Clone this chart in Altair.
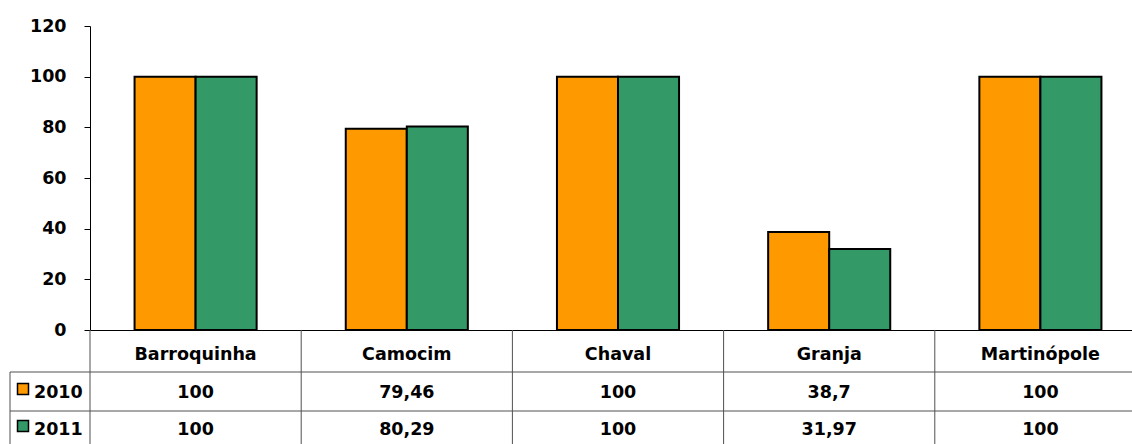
import altair as alt
import pandas as pd

municipios = ["Barroquinha", "Camocim", "Chaval", "Granja", "Martinópole"]
anos = ["2010", "2011"]
valores_2010 = [100, 79.46, 100, 38.7, 100]
valores_2011 = [100, 80.29, 100, 31.97, 100]
rotulos_2010 = ["100", "79,46", "100", "38,7", "100"]
rotulos_2011 = ["100", "80,29", "100", "31,97", "100"]
cores = ["#FF9900", "#339966"]
y_ticks = [0, 20, 40, 60, 80, 100, 120]

rows = []
for ano, vals, rots in [("2010", valores_2010, rotulos_2010), ("2011", valores_2011, rotulos_2011)]:
    for m, v, r in zip(municipios, vals, rots):
        rows.append({"municipio": m, "ano": ano, "valor": v, "rotulo": r})
df = pd.DataFrame(rows)
df_cat = pd.DataFrame({"municipio": municipios})
df_anos = pd.DataFrame({"ano": anos})
one = alt.Data(values=[{"k": 1}])

W, H = 1042, 304
XRANGE = 1056
FONT = "DejaVu Sans"
FS = 17.5
row_y = {"2010": 367, "2011": 404}
sq_y = {"2010": 363, "2011": 400}
LINE = "#505050"

xscale = alt.Scale(domain=municipios, paddingInner=0, paddingOuter=0, range=[0, XRANGE])
xenc = alt.X("municipio:N", sort=municipios, scale=xscale, title=None,
             axis=alt.Axis(labels=False, ticks=False, domainColor="black", domainWidth=1))

bars = alt.Chart(df).mark_bar(stroke="black", strokeWidth=2).encode(
    x=xenc,
    xOffset=alt.XOffset("ano:N", sort=anos, scale=alt.Scale(paddingInner=0, paddingOuter=0.73)),
    y=alt.Y("valor:Q", scale=alt.Scale(domain=[0, 120], nice=False), title=None,
            axis=alt.Axis(values=y_ticks, grid=False, tickColor="black", tickSize=6,
                          domainColor="black", labelFont=FONT, labelFontSize=FS,
                          labelFontWeight="bold", labelColor="black", labelPadding=18)),
    color=alt.Color("ano:N", scale=alt.Scale(domain=anos, range=cores), legend=None),
)

cat_labels = alt.Chart(df_cat).mark_text(font=FONT, fontSize=FS, fontWeight="bold",
                                         color="black", baseline="middle").encode(
    x=alt.X("municipio:N", sort=municipios, scale=xscale),
    y=alt.value(H + 25),
    text="municipio:N",
)

col_lines = alt.Chart(df_cat).mark_rule(color=LINE, strokeWidth=1).encode(
    x=alt.X("municipio:N", sort=municipios, scale=xscale, bandPosition=0),
    y=alt.value(H),
    y2=alt.value(H + 114),
)

layers = [bars, col_lines, cat_labels]

for yv in [346, 385]:
    layers.append(alt.Chart(one).mark_rule(color=LINE, strokeWidth=1).encode(
        x=alt.value(-80), x2=alt.value(W), y=alt.value(yv)))
layers.append(alt.Chart(one).mark_rule(color=LINE, strokeWidth=1).encode(
    x=alt.value(-80), y=alt.value(346), y2=alt.value(418)))

for i, ano in enumerate(anos):
    layers.append(alt.Chart(df).transform_filter(alt.datum.ano == ano).mark_text(
        font=FONT, fontSize=FS, fontWeight="bold", color="black", baseline="middle").encode(
        x=alt.X("municipio:N", sort=municipios, scale=xscale),
        y=alt.value(row_y[ano]),
        text="rotulo:N",
    ))
    sub = df_anos[df_anos.ano == ano]
    layers.append(alt.Chart(sub).mark_square(size=121, stroke="black", strokeWidth=1.5,
                                             opacity=1, fill=cores[i]).encode(
        x=alt.value(-67), y=alt.value(sq_y[ano])))
    layers.append(alt.Chart(sub).mark_text(font=FONT, fontSize=FS, fontWeight="bold",
                                           color="black", baseline="middle", align="left").encode(
        x=alt.value(-56), y=alt.value(row_y[ano]), text="ano:N"))

chart = alt.layer(*layers).properties(
    width=W, height=H,
    autosize=alt.AutoSizeParams(type="none"),
    padding={"left": 90, "top": 26, "right": 0, "bottom": 114},
    background="white",
).configure_view(stroke=None)

chart.save("out.html", embed_options={"renderer": "svg", "actions": False})
